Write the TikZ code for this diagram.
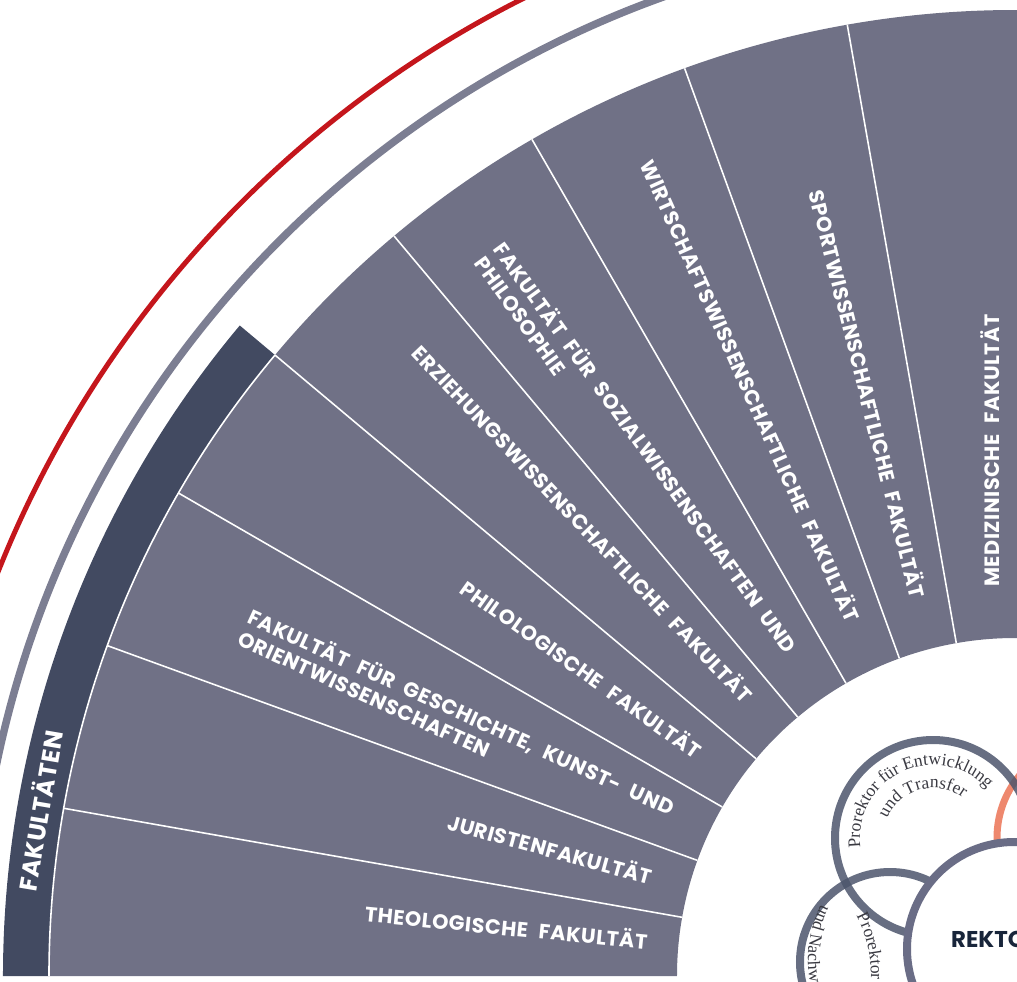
\documentclass[tikz,border=0pt]{standalone}
\usepackage{fontspec}
\setmainfont{Liberation Serif}
\newfontfamily\facfont{Poppins}[LetterSpace=2.5, WordSpace=2.2]
\newfontfamily\rekfont{Poppins}
\usetikzlibrary{decorations.text}

\definecolor{facgray}{RGB}{112,113,134}
\definecolor{facdark}{RGB}{66,74,97}
\definecolor{ringgray}{RGB}{124,126,146}
\definecolor{unired}{RGB}{196,22,28}
\definecolor{salmon}{RGB}{238,136,110}
\definecolor{proline}{RGB}{76,85,108}
\definecolor{rekline}{RGB}{106,109,134}
\definecolor{rektext}{RGB}{24,37,58}
\definecolor{protext}{RGB}{58,58,66}

\begin{document}
\begin{tikzpicture}[
    x=0.02cm, y=0.02cm,
    faclabel/.style={font=\facfont\bfseries\fontsize{11.8}{13.5}\selectfont, text=white, align=left, anchor=east, inner sep=0pt},
    divider/.style={draw=white, line width=0.9pt},
    procircle/.style={draw=proline, line width=0.16cm, draw opacity=0.85},
    protext/.style={decorate, decoration={text along path, text align=#1}},
    profont/.style={decoration={text={|\color{protext}\fontsize{10}{10}\selectfont|#1}}}
]
\useasboundingbox (-1015,-5) rectangle (2,976);
\clip (-1015,-5) rectangle (2,976);

% outer rings
\draw[unired, line width=0.1cm] (0,0) circle[radius=1094];
\draw[ringgray, line width=0.15cm] (0,0) circle[radius=1040];

% faculties band and wedges
\fill[facdark] (140:966) arc[start angle=140, end angle=180, radius=966] -- (180:1012) arc[start angle=180, end angle=140, radius=1012] -- cycle;
\fill[facgray] (85:338) arc[start angle=85, end angle=180, radius=338] -- (180:966) arc[start angle=180, end angle=85, radius=966] -- cycle;
\foreach \a in {100,110,...,170} \draw[divider] (\a:338) -- (\a:966);
\draw[divider] (140:966) arc[start angle=140, end angle=180, radius=966];

\node[font=\facfont\bfseries\fontsize{14}{14}\selectfont, text=white, rotate=80.4] (fak) at (170.4:990) {FAKULTÄTEN};

% faculty labels
\node[faclabel, rotate=-5.6] (theo) at (174.4:369) {THEOLOGISCHE FAKULTÄT};
\node[faclabel, rotate=-15.4] (jura) at (164.6:376) {JURISTENFAKULTÄT};
\node[faclabel, rotate=-24.5] (gko) at (155.5:380) {FAKULTÄT FÜR GESCHICHTE, KUNST- UND\\ORIENTWISSENSCHAFTEN};
\node[faclabel, rotate=-35.4] (philo) at (144.6:386) {PHILOLOGISCHE FAKULTÄT};
\node[faclabel, rotate=-46.4] (erz) at (133.6:384) {ERZIEHUNGSWISSENSCHAFTLICHE FAKULTÄT};
\node[faclabel, rotate=-54.1] (sph) at (125.9:394) {FAKULTÄT FÜR SOZIALWISSENSCHAFTEN UND\\PHILOSOPHIE};
\node[faclabel, rotate=-65.8] (wifa) at (114.2:390) {WIRTSCHAFTSWISSENSCHAFTLICHE FAKULTÄT};
\node[faclabel, rotate=-75.9] (sport) at (104.1:390) {SPORTWISSENSCHAFTLICHE FAKULTÄT};
\node[faclabel, anchor=west, rotate=90] (med) at (-25,389) {MEDIZINISCHE FAKULTÄT};

% rectorate circles
\coordinate (pe) at (-82,138);
\coordinate (pf) at (-125,14);
\coordinate (ps) at (80,138);
\coordinate (rk) at (-1,27);
\draw[salmon, line width=0.14cm] (ps) circle[radius=98];
\draw[procircle] (pe) circle[radius=98];
\draw[procircle] (pf) circle[radius=90];
\draw[rekline, line width=0.16cm, fill=white] (rk) circle[radius=107];

\path[protext=center, profont={Prorektor für Entwicklung}] ([shift={(200:73)}]pe) arc[start angle=200, end angle=30, radius=73];
\path[protext=center, profont={und Transfer}] ([shift={(175:50)}]pe) arc[start angle=175, end angle=35, radius=50];
\path[protext=left, profont={Prorektor für Forschung}] ([shift={(28:126)}]-270,1) arc[start angle=28, end angle=-40, radius=126];
\path[protext=left, profont={und Nachwuchsförderung}] ([shift={(153:122)}]-85,16) arc[start angle=153, end angle=250, radius=122];

\node[font=\rekfont\bfseries\fontsize{13}{13}\selectfont, text=rektext, anchor=base west] (rektor) at (-70,29) {REKTOR};
\end{tikzpicture}
\end{document}
